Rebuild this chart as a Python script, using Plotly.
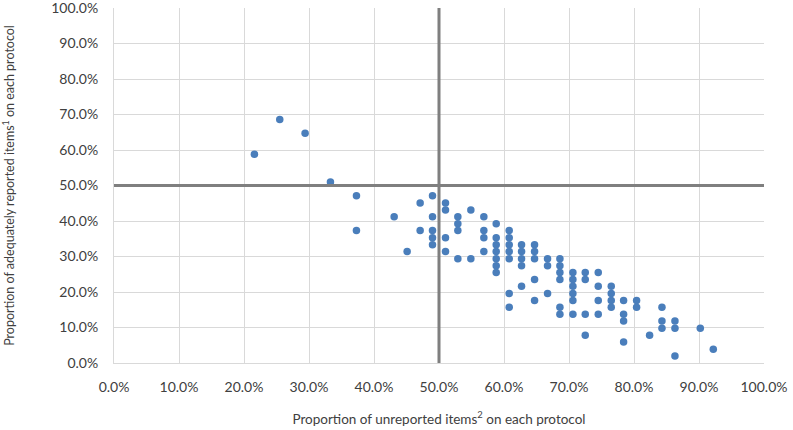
import plotly.graph_objects as go

# Proportion of unreported items (%) per protocol
unreported = [
    21.6, 25.5, 29.4, 33.3, 37.3, 37.3, 43.1, 45.1, 47.1, 47.1,
    49.0, 49.0, 49.0, 49.0, 49.0,
    51.0, 51.0, 51.0, 51.0,
    52.9, 52.9, 52.9, 52.9,
    54.9, 54.9,
    56.9, 56.9, 56.9, 56.9,
    58.8, 58.8, 58.8, 58.8, 58.8, 58.8, 58.8,
    60.8, 60.8, 60.8, 60.8, 60.8, 60.8, 60.8,
    62.7, 62.7, 62.7, 62.7, 62.7,
    64.7, 64.7, 64.7, 64.7, 64.7,
    66.7, 66.7, 66.7,
    68.6, 68.6, 68.6, 68.6, 68.6, 68.6,
    70.6, 70.6, 70.6, 70.6, 70.6, 70.6,
    72.5, 72.5, 72.5, 72.5,
    74.5, 74.5, 74.5, 74.5,
    76.5, 76.5, 76.5, 76.5,
    78.4, 78.4, 78.4, 78.4,
    80.4, 80.4,
    82.4,
    84.3, 84.3, 84.3,
    86.3, 86.3, 86.3,
    90.2,
    92.2,
]
# Proportion of adequately reported items (%) per protocol
adequate = [
    58.8, 68.6, 64.7, 51.0, 47.1, 37.3, 41.2, 31.4, 45.1, 37.3,
    47.1, 41.2, 37.3, 35.3, 33.3,
    45.1, 43.1, 35.3, 31.4,
    41.2, 39.2, 37.3, 29.4,
    43.1, 29.4,
    41.2, 37.3, 35.3, 31.4,
    39.2, 35.3, 33.3, 31.4, 29.4, 27.4, 25.5,
    37.3, 35.3, 33.3, 31.4, 29.4, 19.6, 15.7,
    33.3, 31.4, 29.4, 27.4, 21.6,
    33.3, 31.4, 29.4, 23.5, 17.6,
    29.4, 27.4, 19.6,
    29.4, 27.4, 25.5, 23.5, 15.7, 13.7,
    25.5, 23.5, 21.6, 19.6, 17.6, 13.7,
    25.5, 23.5, 13.7, 7.8,
    25.5, 21.6, 17.6, 13.7,
    21.6, 19.6, 17.6, 15.7,
    17.6, 13.7, 11.8, 5.9,
    17.6, 15.7,
    7.8,
    15.7, 11.8, 9.8,
    11.8, 9.8, 2.0,
    9.8,
    3.9,
]
tick_vals = [0, 10, 20, 30, 40, 50, 60, 70, 80, 90, 100]
tick_text = [f"{v:.1f}%" for v in tick_vals]
threshold = 50

fig = go.Figure()
fig.add_trace(go.Scatter(
    x=unreported, y=adequate, mode="markers",
    marker=dict(size=7.5, color="#4a7ebb"),
    hoverinfo="x+y", showlegend=False,
))

line_col = "#7f7f7f"
fig.add_shape(type="line", xref="x", yref="y", x0=threshold, x1=threshold, y0=0, y1=100,
              line=dict(color=line_col, width=3))
fig.add_shape(type="line", xref="x", yref="y", x0=0, x1=100, y0=threshold, y1=threshold,
              line=dict(color=line_col, width=3))

font_family = "Lato, 'Open Sans', sans-serif"
fig.update_layout(
    width=793, height=430,
    margin=dict(l=114, r=29, t=8, b=67),
    paper_bgcolor="white", plot_bgcolor="white",
    font=dict(family=font_family, size=14, color="#404040"),
)
fig.update_xaxes(
    range=[0, 100], tickvals=tick_vals, ticktext=tick_text,
    showgrid=True, gridcolor="#d9d9d9", gridwidth=1,
    showline=True, linecolor="#d9d9d9", linewidth=1, mirror=False,
    zeroline=False, ticklabelstandoff=11, ticklabeloverflow="allow",
    tickfont=dict(size=14, color="#404040"),
    title=dict(text="Proportion of unreported items<sup>2</sup> on each protocol",
               font=dict(size=13.5, color="#404040"), standoff=20),
    automargin=False,
)
fig.update_yaxes(
    range=[0, 100], tickvals=tick_vals, ticktext=tick_text,
    showgrid=True, gridcolor="#d9d9d9", gridwidth=1,
    showline=True, linecolor="#d9d9d9", linewidth=1,
    zeroline=False, ticklabelstandoff=12, ticklabeloverflow="allow",
    tickfont=dict(size=14, color="#404040"),
    title=dict(text="Proportion of adequately reported items<sup>1</sup> on each protocol",
               font=dict(size=12.5, color="#404040"), standoff=35),
    automargin=False,
)

fig.write_html("out.html", config={"displayModeBar": False},
               post_script="document.body.style.margin='0';")
